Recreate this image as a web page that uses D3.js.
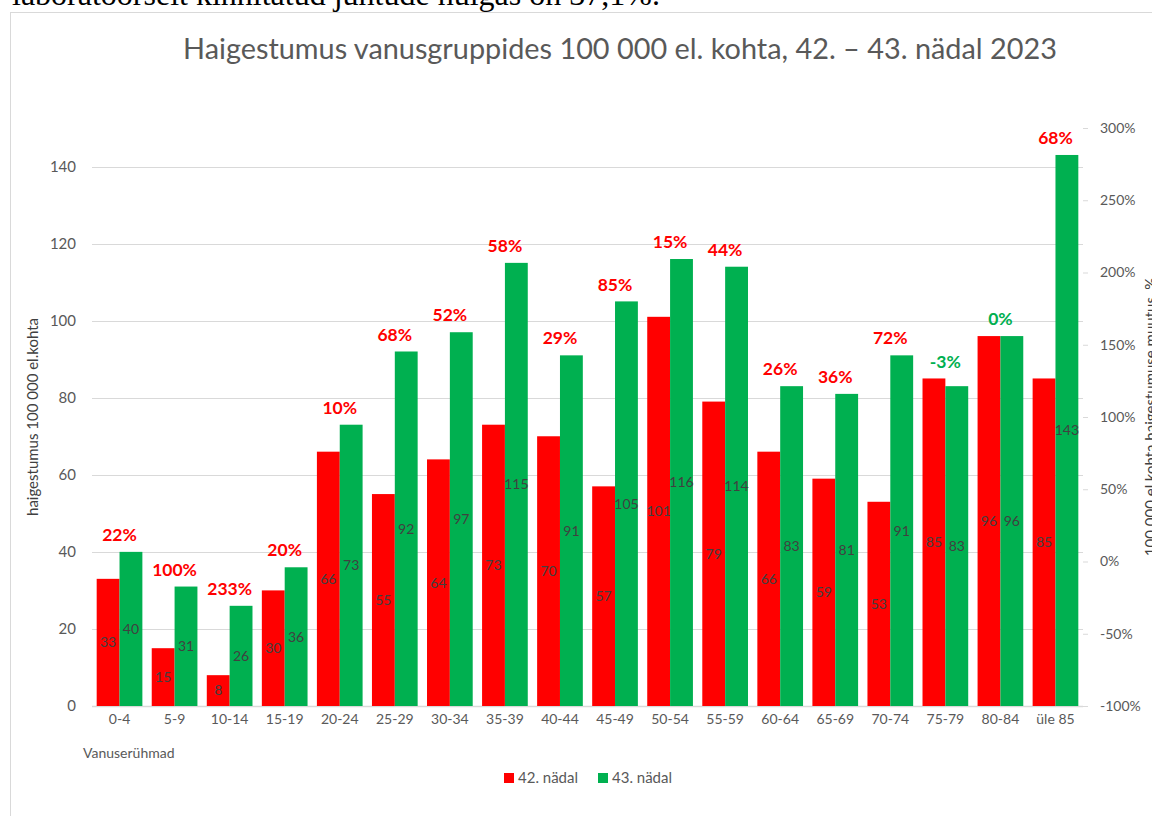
<!DOCTYPE html>
<html>
<head>
<meta charset="utf-8">
<script src="https://cdn.jsdelivr.net/npm/d3@7/dist/d3.min.js"></script>
<style>
  body { margin: 0; background: #fff; }
  svg { display: block; }
</style>
</head>
<body>
<div id="chart"></div>
<script>
// Haigestumus vanusgruppides - 42. vs 43. nädal

const ageGroups = ['0-4', '5-9', '10-14', '15-19', '20-24', '25-29', '30-34', '35-39', '40-44',
    '45-49', '50-54', '55-59', '60-64', '65-69', '70-74', '75-79', '80-84', 'üle 85'];
const week42 = [33, 15, 8, 30, 66, 55, 64, 73, 70, 57, 101, 79, 66, 59, 53, 85, 96, 85];
const week43 = [40, 31, 26, 36, 73, 92, 97, 115, 91, 105, 116, 114, 83, 81, 91, 83, 96, 143];
const changePct = [22, 100, 233, 20, 10, 68, 52, 58, 29, 85, 15, 44, 26, 36, 72, -3, 0, 68];
const leftTicks = [0, 20, 40, 60, 80, 100, 120, 140];
const rightTicks = [-100, -50, 0, 50, 100, 150, 200, 250, 300];
const seriesNames = ['42. nädal', '43. nädal'];

const COLORS = { red: '#FF0000', green: '#00B050', grid: '#D9D9D9', text: '#595959', label: '#404040' };
const FONT = 'Lato, "Open Sans", sans-serif';

const W = 1152, H = 816;
const plot = { left: 92, right: 1083, top: 128, bottom: 706 };

const svg = d3.select('#chart').append('svg')
    .attr('width', W)
    .attr('height', H)
    .style('font-family', FONT);

// tekst lehe ülaservas (lõigatud nagu originaalis)
const topText = svg.append('text')
    .attr('x', 12)
    .attr('y', 5)
    .attr('font-family', '"Liberation Serif", "DejaVu Serif", serif')
    .attr('font-size', 24)
    .attr('fill', '#000')
    .text('laboratoorselt kinnitatud juhtude hulgas on 37,1%.');
fitWidth(topText, 648);

// diagrammi raam
svg.append('rect')
    .attr('x', 10.5)
    .attr('y', 12.5)
    .attr('width', 1200)
    .attr('height', 900)
    .attr('fill', '#fff')
    .attr('stroke', COLORS.grid);

// Pealkiri
const title = svg.append('text')
    .attr('x', 620)
    .attr('y', 59)
    .attr('text-anchor', 'middle')
    .attr('font-size', 26)
    .attr('fill', COLORS.text)
    .text('Haigestumus vanusgruppides 100 000 el. kohta, 42. – 43. nädal 2023');
fitWidth(title, 874);

// Scale
const x = d3.scaleBand()
    .domain(ageGroups)
    .range([plot.left, plot.right])
    .paddingInner(0.17)
    .paddingOuter(0.085);

const xSub = d3.scaleBand()
    .domain([0, 1])
    .range([0, x.bandwidth()]);

const y = d3.scaleLinear()
    .domain([0, 150])
    .range([plot.bottom, plot.top]);

const y2 = d3.scaleLinear()
    .domain([-100, 300])
    .range([plot.bottom, plot.top]);

// Gridlines
svg.append('g')
    .selectAll('line')
    .data(leftTicks)
    .join('line')
    .attr('x1', plot.left)
    .attr('x2', plot.right)
    .attr('y1', d => Math.round(y(d)) + 0.5)
    .attr('y2', d => Math.round(y(d)) + 0.5)
    .attr('stroke', COLORS.grid)
    .attr('stroke-width', d => d === 0 ? 1.5 : 1);

// Asse sinistro
const yAxis = svg.append('g')
    .attr('transform', `translate(${plot.left},0)`)
    .call(d3.axisLeft(y).tickValues(leftTicks).tickSize(0).tickPadding(16));
yAxis.select('.domain').remove();
yAxis.selectAll('text')
    .attr('font-family', FONT)
    .attr('font-size', 15)
    .attr('fill', COLORS.text);

// Asse destro (%)
const y2Axis = svg.append('g')
    .attr('transform', `translate(${plot.right},0)`)
    .call(d3.axisRight(y2).tickValues(rightTicks).tickSize(5).tickPadding(12).tickFormat(d => d + '%'));
y2Axis.select('.domain').remove();
y2Axis.selectAll('line').attr('stroke', COLORS.grid);
y2Axis.selectAll('text')
    .attr('font-family', FONT)
    .attr('font-size', 14)
    .attr('fill', COLORS.text);

// Asse x
const xAxis = svg.append('g')
    .attr('transform', `translate(0,${plot.bottom})`)
    .call(d3.axisBottom(x).tickSize(0).tickPadding(8));
xAxis.select('.domain').remove();
xAxis.selectAll('text')
    .attr('font-family', FONT)
    .attr('font-size', 14)
    .attr('fill', COLORS.text);

// Axis titles
svg.append('text')
    .attr('transform', `translate(38,${(plot.top + plot.bottom) / 2}) rotate(-90)`)
    .attr('text-anchor', 'middle')
    .attr('font-size', 15)
    .attr('fill', COLORS.label)
    .text('haigestumus 100 000 el.kohta');

svg.append('text')
    .attr('transform', `translate(1156,${(plot.top + plot.bottom) / 2}) rotate(-90)`)
    .attr('text-anchor', 'middle')
    .attr('font-size', 15)
    .attr('fill', COLORS.label)
    .text('100 000 el.kohta haigestumuse muutus, %');

svg.append('text')
    .attr('x', 83)
    .attr('y', 758)
    .attr('font-size', 14)
    .attr('fill', COLORS.text)
    .text('Vanuserühmad');

// Bars
const rows = ageGroups.map((g, i) => ({ group: g, values: [week42[i], week43[i]], pct: changePct[i] }));
const seriesColors = [COLORS.red, COLORS.green];

const groups = svg.append('g')
    .selectAll('g')
    .data(rows)
    .join('g')
    .attr('transform', d => `translate(${x(d.group)},0)`);

groups.selectAll('rect')
    .data(d => d.values.map((v, k) => ({ v, k })))
    .join('rect')
    .attr('x', d => xSub(d.k))
    .attr('width', xSub.bandwidth())
    .attr('y', d => y(d.v))
    .attr('height', d => y(0) - y(d.v))
    .attr('fill', d => seriesColors[d.k]);

// väärtused tulpade keskel
groups.selectAll('text.val')
    .data(d => d.values.map((v, k) => ({ v, k })))
    .join('text')
    .attr('class', 'val')
    .attr('x', d => xSub(d.k) + xSub.bandwidth() / 2)
    .attr('y', d => (y(d.v) + y(0)) / 2)
    .attr('dy', '0.35em')
    .attr('text-anchor', 'middle')
    .attr('font-size', 14)
    .attr('fill', COLORS.label)
    .text(d => d.v);

// muutus % kõrgema tulba kohal
groups.append('text')
    .attr('x', x.bandwidth() / 2)
    .attr('y', d => y(d3.max(d.values)) - 17)
    .attr('dy', '0.35em')
    .attr('text-anchor', 'middle')
    .attr('font-size', 17.5)
    .attr('font-weight', 'bold')
    .attr('fill', d => d.pct <= 0 ? COLORS.green : COLORS.red)
    .text(d => d.pct + '%');

// Legenda
const legendX = [504, 598];
const legend = svg.append('g')
    .selectAll('g')
    .data(seriesNames)
    .join('g')
    .attr('transform', (d, i) => `translate(${legendX[i]},778)`);

legend.append('rect')
    .attr('x', 0)
    .attr('y', -5)
    .attr('width', 10)
    .attr('height', 10)
    .attr('fill', (d, i) => seriesColors[i]);

legend.append('text')
    .attr('x', 14)
    .attr('dy', '0.35em')
    .attr('font-size', 15)
    .attr('fill', COLORS.text)
    .text(d => d);

function fitWidth(sel, target) {
    const len = sel.node().getComputedTextLength();
    const fs = parseFloat(sel.attr('font-size'));
    sel.attr('font-size', (fs * target / len).toFixed(2));
}
</script>
</body>
</html>
